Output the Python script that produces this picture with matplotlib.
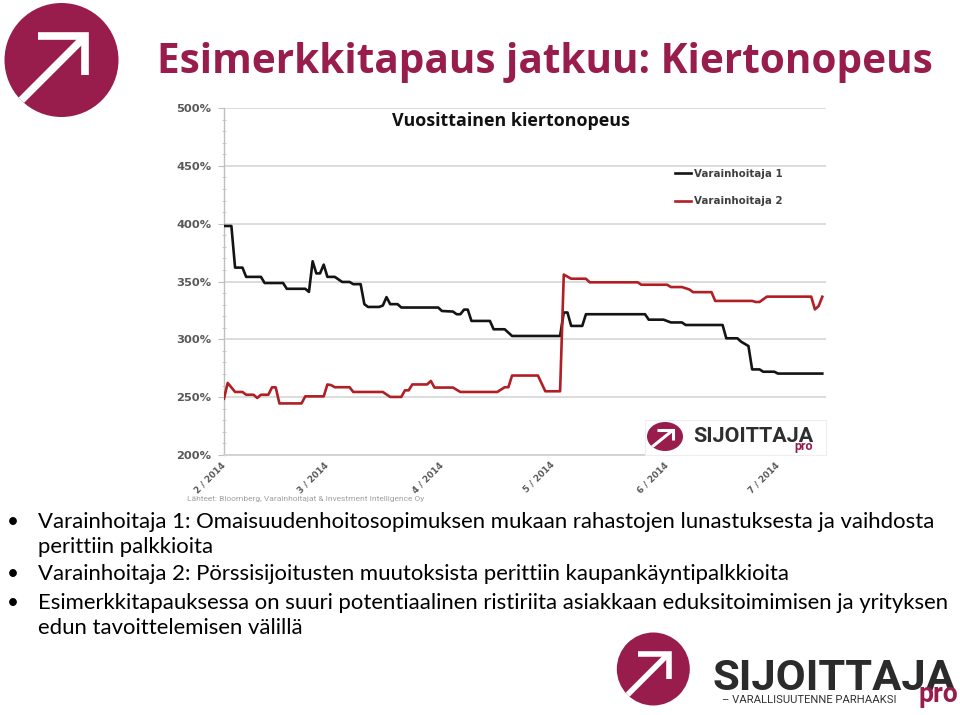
import matplotlib
matplotlib.use('Agg')
import matplotlib.pyplot as plt
import pandas as pd
from matplotlib.patches import Ellipse, Rectangle
from matplotlib.ticker import MultipleLocator, FixedLocator

W, H = 960, 715
MAROON = '#981D4C'
RED = '#B01F24'
BLACK = '#141414'
GRID = '#D9D9D9'
TICKCOL = '#595959'

# ---------------- data ----------------
series_names = ['Varainhoitaja 1', 'Varainhoitaja 2']

dates_1 = ['2014-02-01', '2014-02-03', '2014-02-04', '2014-02-06', '2014-02-07', '2014-02-11',
           '2014-02-12', '2014-02-17', '2014-02-18', '2014-02-23', '2014-02-24', '2014-02-25',
           '2014-02-26', '2014-02-27', '2014-02-28', '2014-03-01', '2014-03-03', '2014-03-05',
           '2014-03-07', '2014-03-08', '2014-03-10', '2014-03-11', '2014-03-12', '2014-03-15',
           '2014-03-16', '2014-03-17', '2014-03-18', '2014-03-20', '2014-03-21', '2014-03-31',
           '2014-04-01', '2014-04-04', '2014-04-05', '2014-04-06', '2014-04-07', '2014-04-08',
           '2014-04-09', '2014-04-14', '2014-04-15', '2014-04-18', '2014-04-20', '2014-05-03',
           '2014-05-04', '2014-05-05', '2014-05-06', '2014-05-09', '2014-05-10', '2014-05-26',
           '2014-05-27', '2014-05-31', '2014-06-02', '2014-06-05', '2014-06-06', '2014-06-16',
           '2014-06-17', '2014-06-20', '2014-06-21', '2014-06-23', '2014-06-24', '2014-06-26',
           '2014-06-27', '2014-06-30', '2014-07-01', '2014-07-13']
values_1 = [398, 398, 362, 362, 354, 354, 348.7, 348.7, 343.7, 343.7, 341, 367.5,
            357, 357, 364.6, 354, 354, 349.6, 349.6, 347.7, 347.7, 330.4, 328, 328,
            329.2, 336.5, 330.4, 330.4, 327.5, 327.5, 324.5, 324, 321.7, 321.7, 325.7, 325.7,
            315.9, 315.9, 308.7, 308.7, 302.9, 302.9, 323.2, 323.2, 311.6, 311.6, 321.7, 321.7,
            317, 317, 314.6, 314.6, 312.4, 312.4, 300.9, 300.9, 298, 294.2, 274, 274,
            272, 272, 270.4, 270.4]

dates_2 = ['2014-02-01', '2014-02-02', '2014-02-04', '2014-02-06', '2014-02-07', '2014-02-09',
           '2014-02-10', '2014-02-11', '2014-02-13', '2014-02-14', '2014-02-15', '2014-02-16',
           '2014-02-22', '2014-02-23', '2014-02-28', '2014-03-01', '2014-03-02', '2014-03-03',
           '2014-03-07', '2014-03-08', '2014-03-16', '2014-03-18', '2014-03-21', '2014-03-22',
           '2014-03-23', '2014-03-24', '2014-03-28', '2014-03-29', '2014-03-30', '2014-04-04',
           '2014-04-06', '2014-04-16', '2014-04-18', '2014-04-19', '2014-04-20', '2014-04-27',
           '2014-04-29', '2014-05-03', '2014-05-04', '2014-05-06', '2014-05-10', '2014-05-11',
           '2014-05-24', '2014-05-25', '2014-06-01', '2014-06-02', '2014-06-05', '2014-06-07',
           '2014-06-08', '2014-06-13', '2014-06-14', '2014-06-24', '2014-06-25', '2014-06-26',
           '2014-06-28', '2014-07-10', '2014-07-11', '2014-07-12', '2014-07-13']
values_2 = [248.7, 262.3, 254.5, 254.5, 252.1, 252.1, 249.3, 252.1, 252.1, 258.5, 258.5, 244.6,
            244.6, 250.7, 250.7, 261, 260.4, 258.6, 258.6, 254.5, 254.5, 250.2, 250.2, 255.9,
            255.9, 261, 261, 264, 258.3, 258.3, 254.5, 254.5, 258.6, 258.6, 268.7, 268.7,
            255.1, 255.1, 356, 352.4, 352.4, 349.3, 349.3, 347.2, 347.2, 345.2, 345.2, 343.1,
            340.8, 340.8, 333.2, 333.2, 332.3, 332.3, 336.9, 336.9, 325.9, 328.7, 336.8]

month_ticks = ['2014-02-01', '2014-03-01', '2014-04-01', '2014-05-01', '2014-06-01', '2014-07-01']
month_labels = ['2 / 2014', '3 / 2014', '4 / 2014', '5 / 2014', '6 / 2014', '7 / 2014']
y_ticks = [200, 250, 300, 350, 400, 450, 500]
y_labels = ['200%', '250%', '300%', '350%', '400%', '450%', '500%']

title_text = 'Esimerkkitapaus jatkuu: Kiertonopeus'
chart_title = 'Vuosittainen kiertonopeus'
source_text = 'Lähteet: Bloomberg, Varainhoitajat & Investment Intelligence Oy'
bullets = [
    ['Varainhoitaja 1: Omaisuudenhoitosopimuksen mukaan rahastojen lunastuksesta ja vaihdosta',
     'perittiin palkkioita'],
    ['Varainhoitaja 2: Pörssisijoitusten muutoksista perittiin kaupankäyntipalkkioita'],
    ['Esimerkkitapauksessa on suuri potentiaalinen ristiriita asiakkaan eduksitoimimisen ja yrityksen',
     'edun tavoittelemisen välillä'],
]

# ---------------- figure ----------------
fig = plt.figure(figsize=(9.6, 7.15), dpi=100)
fig.patch.set_facecolor('white')


def fx(px):
    return px / W


def fy(py):
    return 1 - py / H


ax = fig.add_axes([fx(224), fy(455), fx(826) - fx(224), fy(108) - fy(455)])
d1 = pd.to_datetime(dates_1)
d2 = pd.to_datetime(dates_2)
ax.plot(d1, values_1, color=BLACK, lw=1.9, label=series_names[0], zorder=3)
ax.plot(d2, values_2, color=RED, lw=1.9, label=series_names[1], zorder=3)
ax.set_xlim(pd.Timestamp('2014-02-01'), pd.Timestamp('2014-07-14'))
ax.set_ylim(200, 500)
ax.yaxis.set_major_locator(FixedLocator(y_ticks))
ax.set_yticklabels(y_labels)
ax.yaxis.set_minor_locator(MultipleLocator(10))
ax.set_xticks(pd.to_datetime(month_ticks))
ax.set_xticklabels(month_labels)
ax.grid(axis='y', which='major', color=GRID, lw=1.3)
ax.set_axisbelow(True)
for s in ['top', 'right']:
    ax.spines[s].set_visible(False)
ax.spines['left'].set_color('#BFBFBF')
ax.spines['bottom'].set_color('#D0D0D0')
ax.spines['left'].set_linewidth(1.0)
ax.spines['bottom'].set_linewidth(1.3)
ax.tick_params(axis='y', which='major', length=4, color='#BFBFBF', pad=5,
               labelsize=8.2, labelcolor=TICKCOL)
ax.tick_params(axis='y', which='minor', length=3, direction='inout', color='#BFBFBF')
ax.tick_params(axis='x', length=0, pad=6, labelsize=6.3, labelcolor=TICKCOL)
for lab in ax.get_yticklabels():
    lab.set_fontfamily('DejaVu Sans')
    lab.set_fontweight('bold')
for lab in ax.get_xticklabels():
    lab.set_fontfamily('DejaVu Sans')
    lab.set_fontweight('bold')
    lab.set_rotation(45)
    lab.set_ha('right')
    lab.set_va('center')
    lab.set_rotation_mode('anchor')

leg = ax.legend(loc='center left', bbox_to_anchor=((675 - 224) / 602, (455 - 187.5) / 347),
                frameon=False, borderpad=0, borderaxespad=0, handlelength=1.6,
                handletextpad=0.25, labelspacing=1.7,
                prop={'family': 'DejaVu Sans', 'weight': 'bold', 'size': 7.4})
for t in leg.get_texts():
    t.set_color('#404040')

# ---------------- overlay (pixel coordinates) ----------------
ov = fig.add_axes([0, 0, 1, 1])
ov.set_xlim(0, W)
ov.set_ylim(H, 0)
ov.axis('off')
ov.patch.set_visible(False)


def logo(cx, cy, rx, ry, lw):
    e = Ellipse((cx, cy), 2 * rx, 2 * ry, facecolor=MAROON, edgecolor='none')
    ov.add_patch(e)

    def p(a, b):
        return cx + a * rx, cy + b * ry
    s = p(-0.75, 0.75)
    c = p(0.42, -0.42)
    l = p(-0.42, -0.42)
    v = p(0.42, 0.27)
    ln1, = ov.plot([s[0], c[0]], [s[1], c[1]], color='white', lw=lw, solid_capstyle='butt')
    ln2, = ov.plot([l[0], c[0], v[0]], [l[1], c[1], v[1]], color='white', lw=lw,
                   solid_joinstyle='miter', solid_capstyle='butt')
    ln1.set_clip_path(e)
    ln2.set_clip_path(e)


fit_items = []


def fit(t, wpx):
    fit_items.append((t, wpx))
    return t


# top-left logo
logo(61.5, 60, 57, 57, 5.5)

# main title
fit(ov.text(157, 73, title_text, color=MAROON, fontfamily='Open Sans', fontweight='bold',
            fontsize=26, ha='left', va='baseline'), 775)

# chart title
fit(ov.text(392, 126, chart_title, color='#111111', fontfamily='Open Sans', fontweight='bold',
            fontsize=12, ha='left', va='baseline'), 238)

# source
fit(ov.text(187, 501, source_text, color='#A0A0A0', fontfamily='Roboto', fontsize=6,
            ha='left', va='baseline'), 233)

# in-chart logo box
ov.add_patch(Rectangle((645, 420), 181, 35, facecolor='white', edgecolor='#EEEEEE', lw=0.8))
logo(665, 436.5, 18, 14.5, 2.2)
fit(ov.text(693, 442, 'SIJOITTAJA', color='#2E2E2E', fontfamily='Roboto', fontweight='bold',
            fontsize=14, ha='left', va='baseline'), 119)
fit(ov.text(794, 450, 'pro', color=MAROON, fontfamily='Roboto', fontweight='bold',
            fontsize=8, ha='left', va='baseline'), 19)

# bullets
bullet_baselines = [[528, 553], [580], [609, 634]]
bullet_texts = []
for lines, ys in zip(bullets, bullet_baselines):
    ov.text(7, ys[0], '•', color='black', fontfamily='Lato', fontsize=15, ha='left', va='baseline')
    for ln, yb in zip(lines, ys):
        bullet_texts.append(ov.text(38, yb, ln, color='black', fontfamily='Lato', fontsize=15,
                                    ha='left', va='baseline'))

# bottom logo
logo(653.3, 669, 36.5, 36.5, 4.0)
fit(ov.text(712, 690, 'SIJOITTAJA', color='#2B2B2B', fontfamily='Roboto', fontweight='bold',
            fontsize=32, ha='left', va='baseline'), 243)
fit(ov.text(722, 703, '– VARALLISUUTENNE PARHAAKSI', color='#333333', fontfamily='Roboto',
            fontsize=8.5, ha='left', va='baseline'), 175)
fit(ov.text(918, 702, 'pro', color=MAROON, fontfamily='Roboto', fontweight='bold',
            fontsize=19, ha='left', va='baseline'), 40)

# fit text sizes to widths measured in the reference
for _ in range(2):
    fig.canvas.draw()
    r = fig.canvas.get_renderer()
    for t, wpx in fit_items:
        bb = t.get_window_extent(r)
        t.set_fontsize(t.get_fontsize() * wpx / bb.width)
    bb = bullet_texts[0].get_window_extent(r)
    size = bullet_texts[0].get_fontsize() * 889 / bb.width
    for t in bullet_texts:
        t.set_fontsize(size)

fig.savefig('out.png', dpi=100, facecolor='white')
